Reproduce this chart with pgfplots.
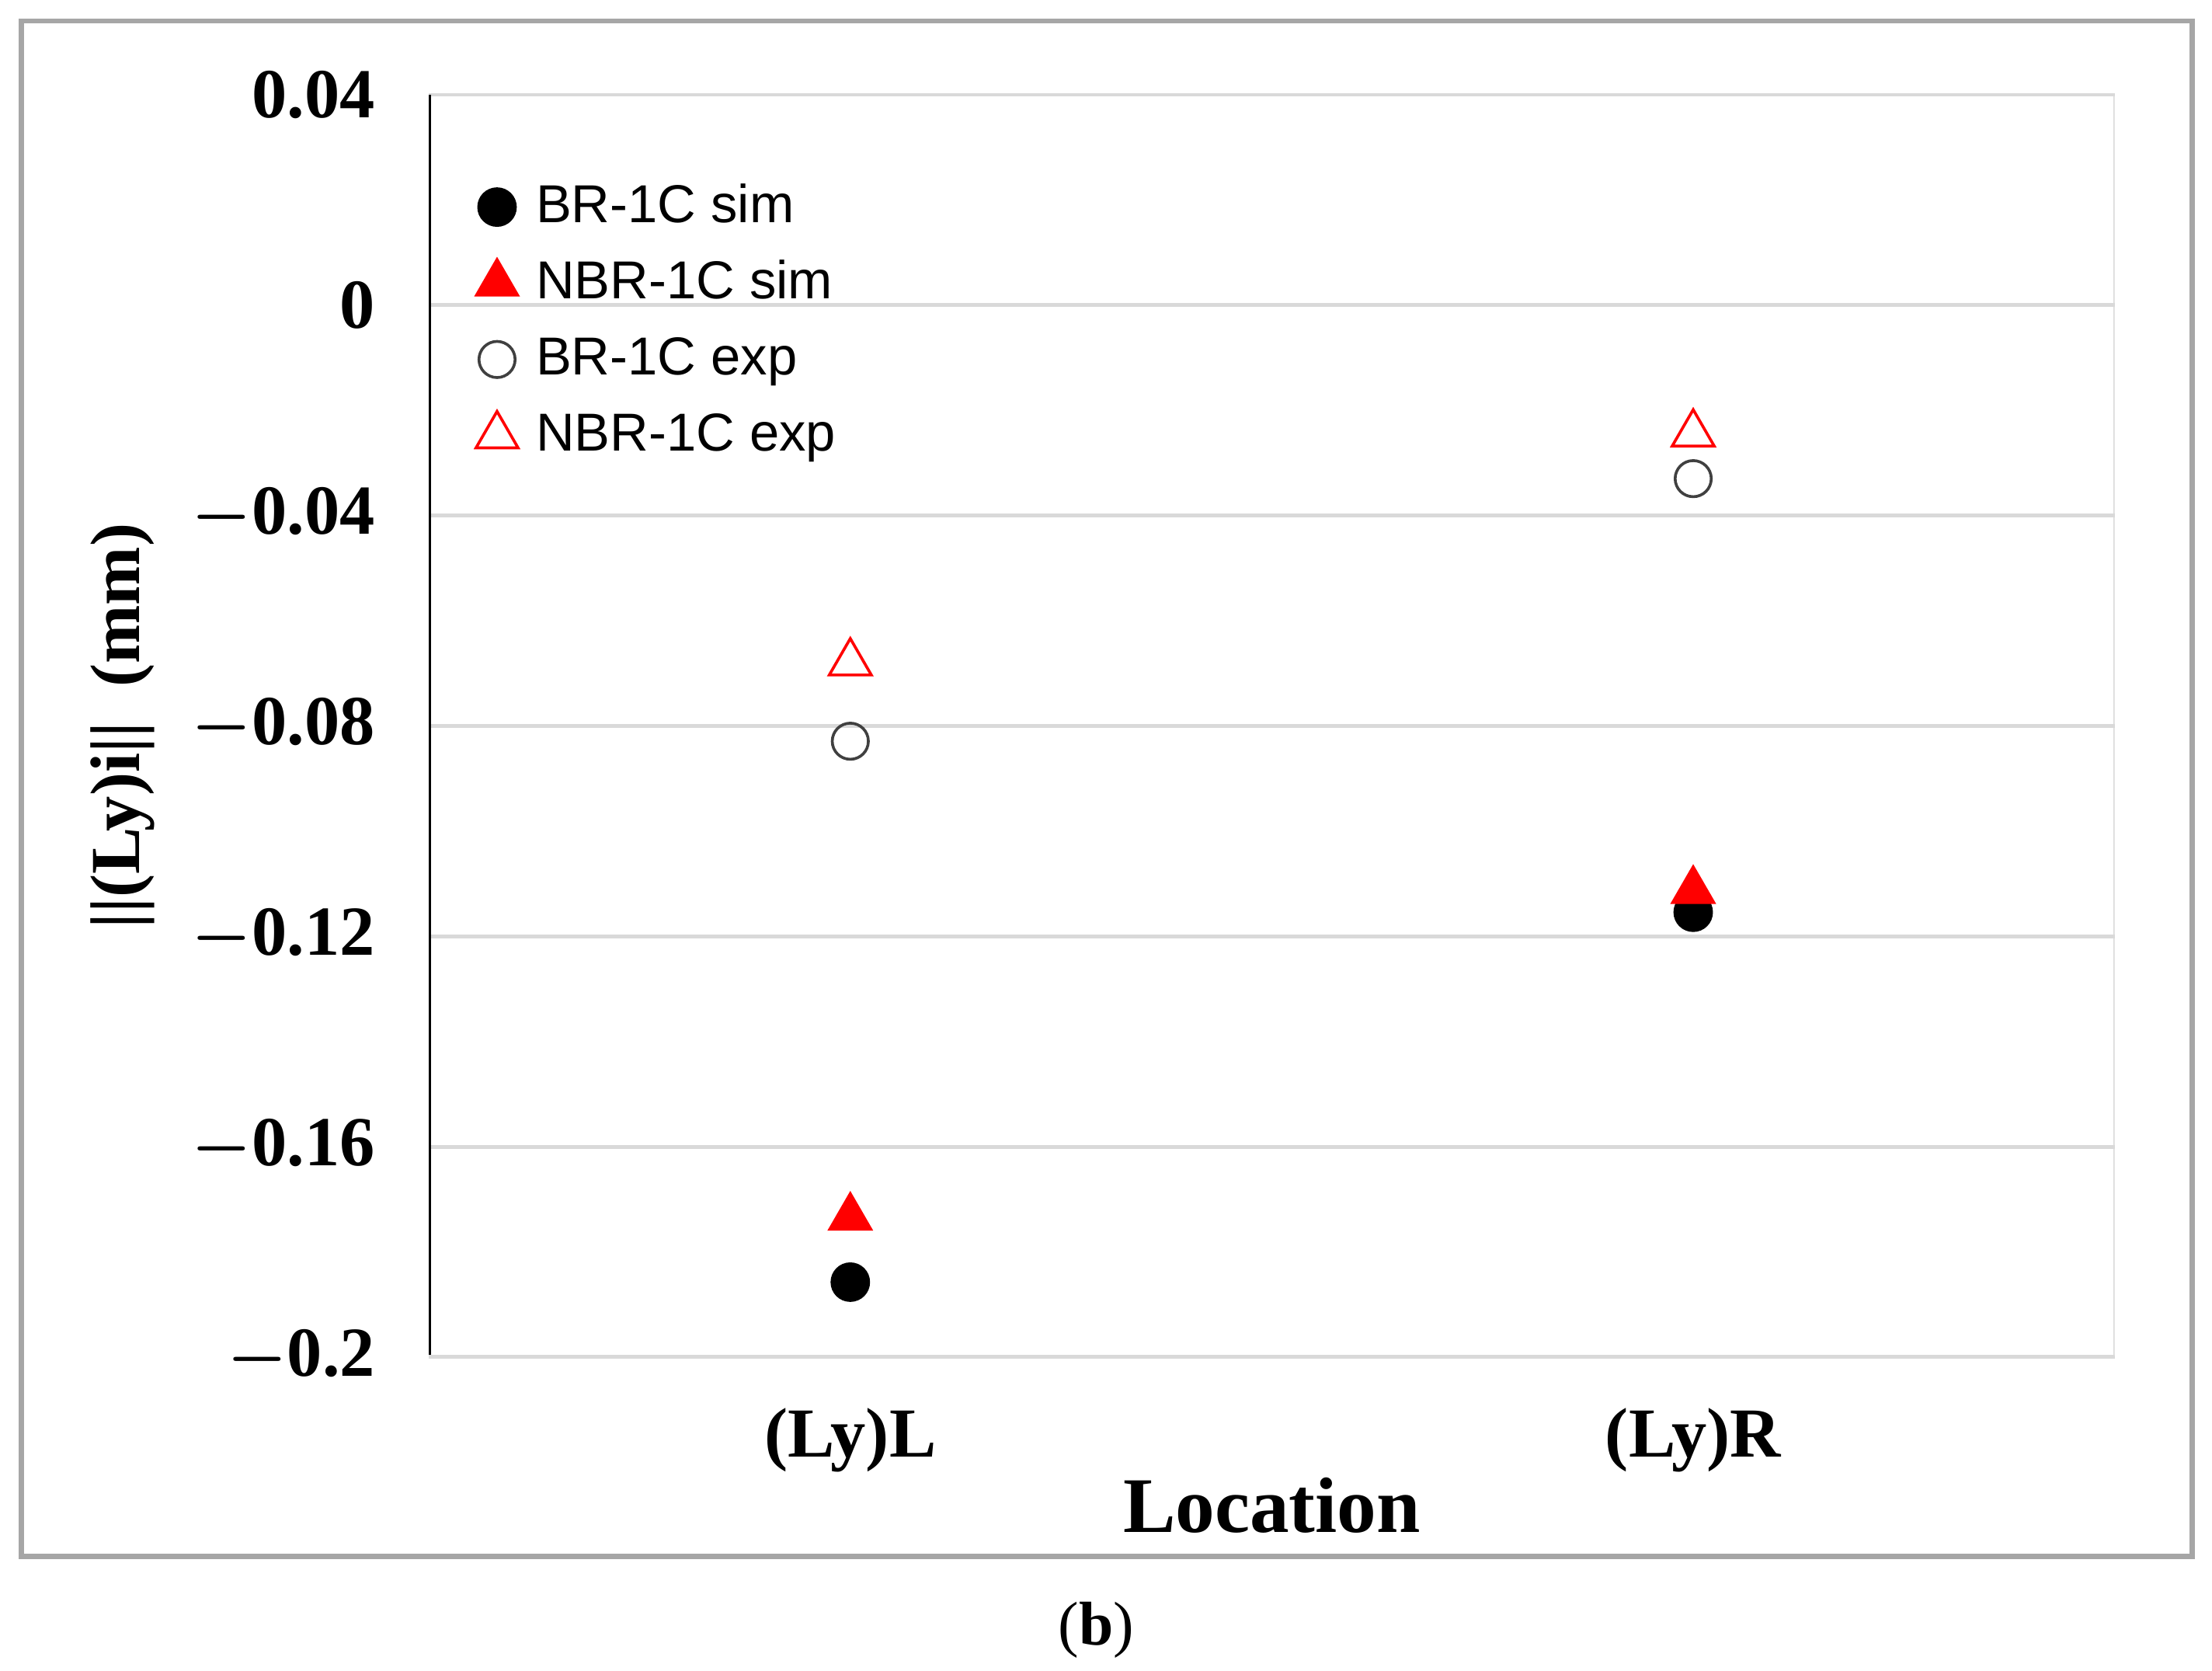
\documentclass[border=0pt]{standalone}
\usepackage{fontspec}
\setmainfont{Liberation Serif}
\newfontfamily\legfont{Liberation Sans}
\usepackage{pgfplots}
\pgfplotsset{compat=1.18}
\definecolor{gridgray}{HTML}{D9D9D9}
\definecolor{framegray}{HTML}{A6A6A6}
\newcommand{\mn}{{\boldmath$-$}}
\begin{document}
\begin{tikzpicture}
\useasboundingbox (-76bp,-55.5bp) rectangle (316bp,240.5bp);
\draw[framegray, line width=0.9bp] (-72.25bp,-35.25bp) rectangle (312.5bp,236.75bp);
\begin{axis}[
  at={(0,0)}, anchor=south west,
  scale only axis, width=298.75bp, height=223.75bp,
  xmin=0.5, xmax=2.5, ymin=-0.2, ymax=0.04,
  xtick={1,2}, xticklabels={(Ly)L,(Ly)R},
  ytick={-0.2,-0.16,-0.12,-0.08,-0.04,0,0.04},
  yticklabels={\mn0.2,\mn0.16,\mn0.12,\mn0.08,\mn0.04,0,0.04},
  major tick length=0pt,
  axis line style={draw=none},
  ymajorgrids, grid style={gridgray, line width=0.6bp},
  tick label style={font=\fontsize{12.5}{14}\selectfont\bfseries},
  yticklabel style={xshift=-6bp},
  xticklabel style={yshift=-5.5bp},
  xlabel={Location},
  ylabel={||(Ly)i||\ \ (mm)},
  xlabel style={font=\fontsize{14}{16}\selectfont\bfseries, at={(axis description cs:0.5,-0.1173)}, anchor=center},
  ylabel style={font=\fontsize{12.5}{14}\selectfont\bfseries, at={(axis description cs:-0.1816,0.5)}, anchor=center, rotate=0},
  legend cell align=left,
  legend image code/.code={\draw[mark repeat=2,mark phase=2,#1] plot coordinates {(0bp,0bp)(5bp,0bp)(10bp,0bp)};},
  legend style={draw=none, fill=none, at={(rel axis cs:0,1)}, anchor=north west, xshift=5bp, yshift=-12bp,
    font=\legfont\fontsize{9.5}{11}\selectfont, row sep=2bp, column sep=2bp,
    nodes={inner sep=1bp, text height=7.5bp, text depth=2bp}},
]
\addplot[only marks, mark=*, mark size=3.4bp, mark options={fill=black, draw=black, line width=0.2bp}]
  coordinates {(1,-0.1857) (2,-0.1154)};
\addlegendentry{BR-1C sim}
\addplot[only marks, mark=triangle*, mark size=4.5bp, color=red, mark options={fill=red, draw=red, line width=0.2bp}]
  coordinates {(1,-0.1734) (2,-0.1113)};
\addlegendentry{NBR-1C sim}
\addplot[only marks, mark=o, mark size=3.2bp, color=black!75, mark options={draw=black!75, line width=0.5bp}]
  coordinates {(1,-0.0829) (2,-0.0330)};
\addlegendentry{BR-1C exp}
\addplot[only marks, mark=triangle, mark size=4.3bp, color=red, mark options={draw=red, line width=0.5bp}]
  coordinates {(1,-0.0680) (2,-0.0245)};
\addlegendentry{NBR-1C exp}
\draw[black, line width=0.7bp] (rel axis cs:0,0) -- (rel axis cs:0,1);
\draw[gridgray, line width=0.6bp] (rel axis cs:1,0) -- (rel axis cs:1,1);
\draw[gridgray, line width=0.9bp] (rel axis cs:0,0) -- (rel axis cs:1,0);
\end{axis}
\node[font=\fontsize{11}{13}\selectfont] at (118.25bp,-48.25bp) {(\textbf{b})};
\end{tikzpicture}
\end{document}
